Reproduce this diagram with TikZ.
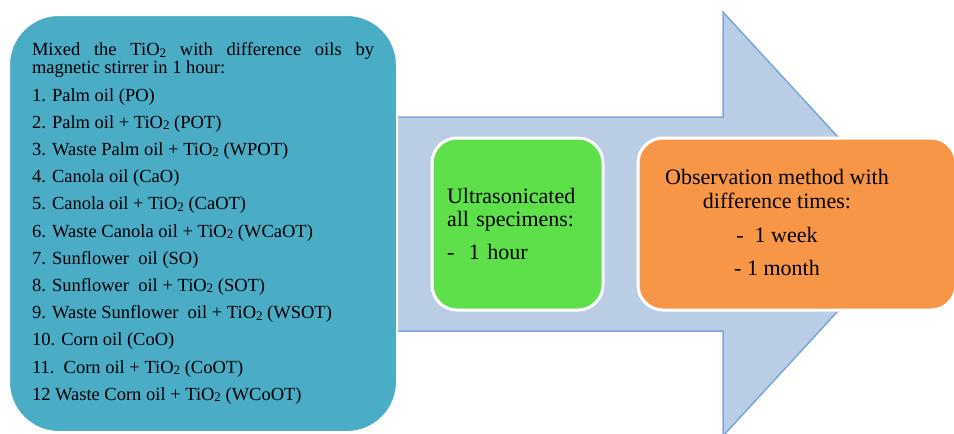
\documentclass[tikz,border=0pt]{standalone}
\usepackage{fontspec}
\setmainfont{Liberation Serif}
\usepackage{tikz}
\usetikzlibrary{positioning,calc}
\definecolor{mixcol}{HTML}{4BACC6}
\definecolor{arrowfill}{HTML}{B9CDE5}
\definecolor{arrowline}{HTML}{7EA6DC}
\definecolor{soniccol}{HTML}{5EE04B}
\definecolor{obscol}{HTML}{F79646}
\newcommand{\Tio}{TiO\raisebox{-1.5pt}{\fontsize{13}{13}\selectfont 2}}

\begin{document}
\begin{tikzpicture}[x=1pt, y=-1pt, semithick]
		\tikzstyle{every node}=[text=black, inner sep=0pt]
		\tikzstyle{stepbox}=[draw=white, line width=3pt, rounded corners=25pt]
		\useasboundingbox (0,0) rectangle (954,434);

		% the big arrow behind
		\coordinate (a0) at (300,117); \coordinate (a1) at (723,117);
		\coordinate (a2) at (723,12); \coordinate (a3) at (918,224);
		\coordinate (a4) at (723,436); \coordinate (a5) at (723,331);
		\coordinate (a6) at (300,331);
		\draw[fill=arrowfill, draw=arrowline, line width=1.5pt] (a0) -- (a1)
		-- (a2) -- (a3) -- (a4) -- (a5) -- (a6) -- cycle;

		\begin{scope}
			\node[stepbox, fill=mixcol, line width=2pt, rounded corners=50pt,
			minimum width=388pt, minimum height=417pt, text width=342pt,
			align=justify, font=\fontsize{18.5}{18}\selectfont] (0) at
			(203,223.5) {\hyphenpenalty=10000 Mixed the \Tio{} with difference
			oils by magnetic stirrer in 1 hour:\par
			\fontsize{18.5}{27.2}\selectfont 1. Palm oil (PO)\\ 2. Palm oil +
			\Tio{} (POT)\\ 3. Waste Palm oil + \Tio{} (WPOT)\\ 4. Canola oil
			(CaO)\\ 5. Canola oil + \Tio{} (CaOT)\\ 6. Waste Canola oil + \Tio{}
			(WCaOT)\\ 7. Sunflower\ \ oil (SO)\\ 8. Sunflower\ \ oil + \Tio{}
			(SOT)\\ 9. Waste Sunflower\ \ oil + \Tio{} (WSOT)\\ 10. Corn oil
			(CoO)\\ 11.\ \ Corn oil + \Tio{} (CoOT)\\ 12 Waste Corn oil +
			\Tio{} (WCoOT)\par};

			\node[stepbox, fill=soniccol, minimum width=171pt, minimum
			height=172pt, text width=141pt, align=left,
			font=\fontsize{22}{23}\selectfont] (1) at (517.5,224)
			{Ultrasonicated\\ all specimens:\\[10pt] -\ \ 1 hour};

			\node[stepbox, fill=obscol, minimum width=318pt, minimum
			height=172pt] (2) at (797,224) {}; \node[align=center,
			font=\fontsize{22}{24}\selectfont] (txt2) at (777,222)
			{Observation method with\\ difference times:\\[10pt] -\ \ 1
			week\\[9pt] - 1 month};
		\end{scope}
	\end{tikzpicture}
\end{document}
